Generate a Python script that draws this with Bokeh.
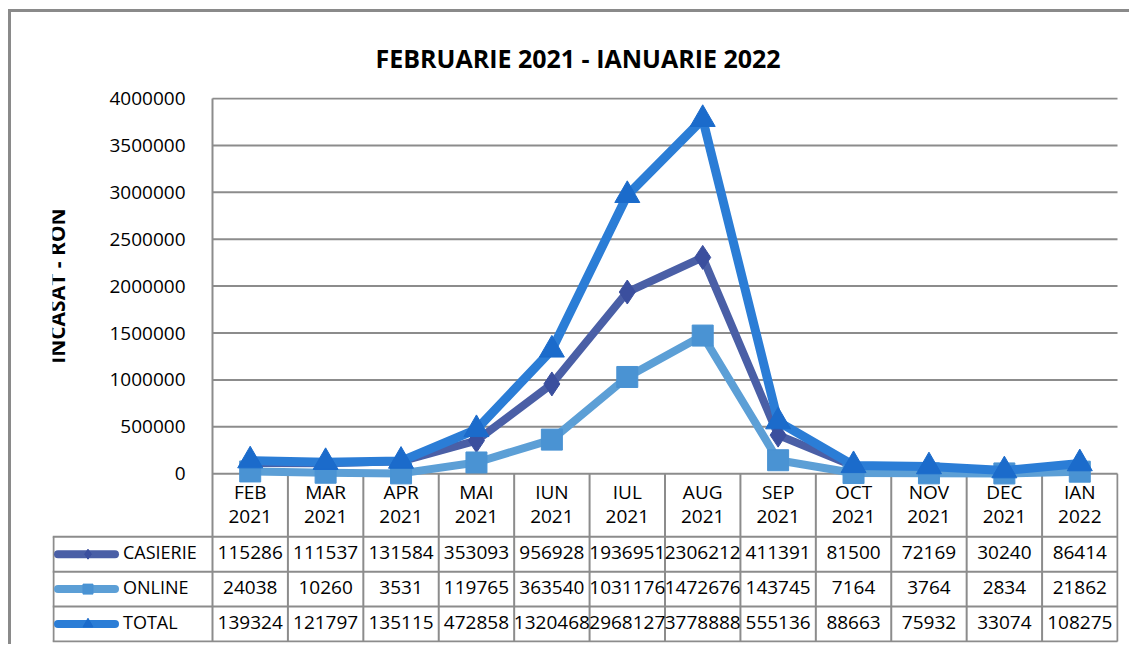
import math
from bokeh.plotting import figure
from bokeh.layouts import column
from bokeh.models import Range1d, FixedTicker, BasicTickFormatter, Label
from bokeh.core.properties import value
from bokeh.embed import file_html
from bokeh.resources import INLINE

# ---------------- data ----------------
categories = ["FEB 2021", "MAR 2021", "APR 2021", "MAI 2021", "IUN 2021", "IUL 2021",
              "AUG 2021", "SEP 2021", "OCT 2021", "NOV 2021", "DEC 2021", "IAN 2022"]
casierie = [115286, 111537, 131584, 353093, 956928, 1936951, 2306212, 411391, 81500, 72169, 30240, 86414]
online = [24038, 10260, 3531, 119765, 363540, 1031176, 1472676, 143745, 7164, 3764, 2834, 21862]
total = [139324, 121797, 135115, 472858, 1320468, 2968127, 3778888, 555136, 88663, 75932, 33074, 108275]
series_names = ["CASIERIE", "ONLINE", "TOTAL"]
y_ticks = [0, 500000, 1000000, 1500000, 2000000, 2500000, 3000000, 3500000, 4000000]
title_text = "FEBRUARIE 2021 - IANUARIE 2022"
y_title = "INCASAT - RON"

# ---------------- styles / layout constants ----------------
FONT = "Open Sans"
GRID = "#8c8c8c"
TXT = "#000000"
line_colors = ["#4a5fa6", "#5c9fd6", "#2b7dd6"]
marker_colors = ["#3b4f9e", "#4a93d3", "#1b6bcb"]
markers = ["diamond", "square", "triangle"]
marker_sizes = [24, 21, 25]
line_widths = [8, 8, 9]

n = len(categories)
xs = [i + 0.5 for i in range(n)]
series = [casierie, online, total]

COLW = 75.42                  # px per month column
PX_X = 1.0 / COLW             # x data units per px
PLOT_H = 375.0                # px from 0 to 4,000,000
YMAX = 4000000
PX_Y = YMAX / PLOT_H          # y data units per px
label_w = 160 * PX_X          # label column width (data units)
header_h = 63                 # px
row_h = 34.9                  # px
table_h = header_h + 3 * row_h


def ypx(px_below_zero):
    return -px_below_zero * PX_Y


x_start = -label_w
x_end = n + 1 * PX_X
y_start = ypx(table_h + 1)
y_end = YMAX + 1 * PX_Y

p = figure(width=1118, height=632, output_backend="svg", toolbar_location=None,
           x_range=Range1d(x_start, x_end), y_range=Range1d(y_start, y_end),
           min_border_left=41, min_border_right=11, min_border_top=85, min_border_bottom=2,
           x_axis_location=None)
p.outline_line_color = None
p.xgrid.visible = False
p.ygrid.visible = False

p.title.text = title_text
p.title.align = "left"
p.title.offset = 323
p.title.standoff = 46
p.title.text_font = FONT
p.title.text_font_size = "25px"
p.title.text_font_style = "bold"
p.title.text_color = TXT

ax = p.yaxis[0]
ax.ticker = FixedTicker(ticks=y_ticks)
ax.formatter = BasicTickFormatter(use_scientific=False)
ax.major_tick_line_color = None
ax.minor_tick_line_color = None
ax.axis_line_color = None
ax.major_label_standoff = -139
ax.major_label_text_font = FONT
ax.major_label_text_font_size = "19px"
ax.major_label_text_color = TXT

# y-axis title (placed over the value range only, like the original)
p.add_layout(Label(x=(57.5 - 212.5) * PX_X, y=YMAX / 2, text=y_title, angle=math.pi / 2,
                   text_align="center", text_baseline="middle", text_font=FONT,
                   text_font_size="21px", text_font_style="bold", text_color=TXT))

# horizontal gridlines of the plot area
p.segment(x0=[0] * len(y_ticks), y0=y_ticks, x1=[n] * len(y_ticks), y1=y_ticks,
          line_color=GRID, line_width=2)
# left border of the plot area + table
p.segment(x0=[0], y0=[ypx(table_h)], x1=[0], y1=[YMAX], line_color=GRID, line_width=2)

# table lines
rows_px = [header_h + row_h * k for k in range(4)]
p.segment(x0=[x_start] * 4, y0=[ypx(r) for r in rows_px], x1=[n] * 4, y1=[ypx(r) for r in rows_px],
          line_color=GRID, line_width=2)
vx = list(range(1, n + 1))
p.segment(x0=vx, y0=[0] * len(vx), x1=vx, y1=[ypx(table_h)] * len(vx), line_color=GRID, line_width=2)
p.segment(x0=[x_start + PX_X], y0=[ypx(header_h)], x1=[x_start + PX_X], y1=[ypx(table_h)],
          line_color=GRID, line_width=2)

# series
for vals, lc, mc, mk, ms, lw in zip(series, line_colors, marker_colors, markers, marker_sizes, line_widths):
    p.line(xs, vals, line_color=lc, line_width=lw, line_join="round")
    p.scatter(xs, vals, marker=mk, size=ms, fill_color=mc, line_color=mc, line_width=1)

# header texts
months = [c.split(" ")[0] for c in categories]
years = [c.split(" ")[1] for c in categories]
tkw = dict(text_align="center", text_baseline="middle", text_font=value(FONT),
           text_font_size="19px", text_color=TXT)
p.text(x=xs, y=[ypx(18)] * n, text=months, **tkw)
p.text(x=xs, y=[ypx(43)] * n, text=years, **tkw)

# table rows with legend keys
for r, (name, vals, lc, mc, mk) in enumerate(zip(series_names, series, line_colors, marker_colors, markers)):
    yrow = header_h + row_h * r + row_h / 2
    yc = ypx(yrow - 2)
    p.text(x=xs, y=[yc] * n, text=[str(v) for v in vals], **tkw)
    x0 = (58 - 212.5) * PX_X
    x1 = (115 - 212.5) * PX_X
    xm = (88 - 212.5) * PX_X
    yk = ypx(yrow)
    p.line([x0, x1], [yk, yk], line_color=lc, line_width=8, line_cap="round")
    p.scatter([xm], [yk], marker=mk, size=10, fill_color=mc, line_color=mc)
    p.text(x=[(123 - 212.5) * PX_X], y=[yc], text=[name], text_align="left", text_baseline="middle",
           text_font=value(FONT), text_font_size="18px", text_color=TXT)

layout = column(p, styles={"border-top": "3px solid #8a8a8a", "border-left": "3px solid #8a8a8a",
                           "margin-left": "8px", "margin-top": "9px"})

open("out.html", "w").write(file_html(layout, INLINE))
